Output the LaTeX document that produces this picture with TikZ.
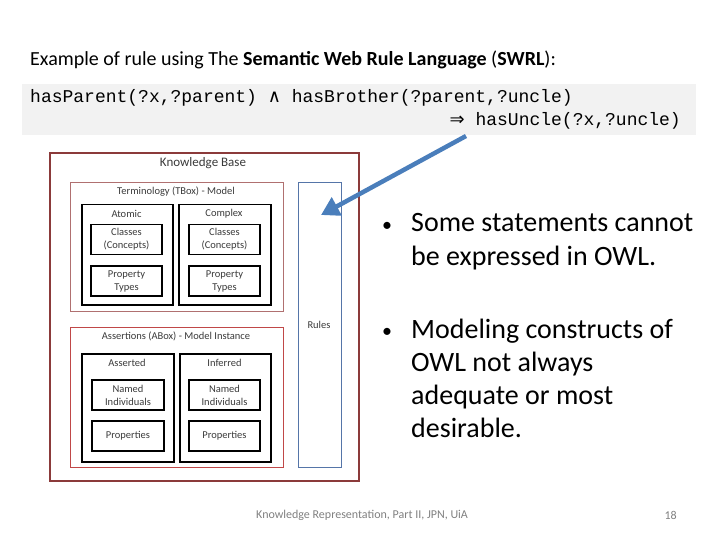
\documentclass[tikz,border=0pt]{standalone}
\usepackage{fontspec}
\setmainfont{Carlito}
\newfontfamily\codefont{Liberation Mono}
\newfontfamily\symfont{DejaVu Sans}
\usetikzlibrary{arrows.meta}
\definecolor{kbred}{HTML}{8B3A3A}
\definecolor{tboxc}{HTML}{B07070}
\definecolor{aboxc}{HTML}{C04848}
\definecolor{rulesc}{HTML}{5575A8}
\definecolor{arrowc}{HTML}{4A7EBB}
\definecolor{codebg}{HTML}{F2F2F2}
\definecolor{txtgray}{HTML}{3A3A3A}
\tikzset{
  kbbox/.style={draw=kbred, line width=2.4pt, anchor=north west, inner sep=0pt},
  tbox/.style={draw=tboxc, line width=1pt, anchor=north west, inner sep=0pt},
  abox/.style={draw=aboxc, line width=1pt, anchor=north west, inner sep=0pt},
  rbox/.style={draw=rulesc, line width=0.8pt, anchor=north west, inner sep=0pt},
  group/.style={draw=black, line width=1.5pt, anchor=north west, inner sep=0pt},
  item/.style={draw=black, line width=1.3pt, minimum width=71pt, minimum height=30pt, inner sep=0pt, align=center, font=\fontsize{10.5}{13}\selectfont, text=txtgray},
  lbl/.style={inner sep=0pt, font=\fontsize{10.5}{13}\selectfont, text=txtgray},
  bullet/.style={inner sep=0pt, anchor=base west, align=left, font=\fontsize{28}{33}\selectfont},
  foot/.style={inner sep=0pt, font=\fontsize{12}{14}\selectfont, text=gray},
  bigarrow/.style={draw=arrowc, line width=4.5pt, -{Triangle[length=18pt,width=20pt]}}
}
\newcommand{\bul}{\makebox[31pt][l]{\raisebox{0.5pt}{\fontsize{20}{20}\selectfont\hspace{2pt}•}}}
\newcommand{\ind}{\hspace*{31pt}}
\begin{document}
\begin{tikzpicture}[x=1pt,y=-1pt]
\useasboundingbox (0,0) rectangle (720,540);
% title
\node[inner sep=0pt, anchor=west, font=\fontsize{20}{24}\selectfont] (title) at (30,60)
  {Example of rule using The \textbf{Semantic Web Rule Language} (\textbf{SWRL}):};
% code block
\fill[codebg] (22,84) rectangle (696,135);
\node[inner sep=0pt, anchor=west, font=\codefont\fontsize{18}{20}\selectfont] (code1) at (30,98)
  {hasParent(?x,?parent) {\symfont ∧} hasBrother(?parent,?uncle)};
\node[inner sep=0pt, anchor=east, font=\codefont\fontsize{18}{20}\selectfont] (code2) at (681,121)
  {{\symfont ⇒} hasUncle(?x,?uncle)};
% knowledge base
\node[kbbox, minimum width=309pt, minimum height=328pt] (kb) at (49,152) {};
\node[lbl, font=\fontsize{13}{15}\selectfont] (kbt) at (203,163) {Knowledge Base};
% TBox
\node[tbox, minimum width=213pt, minimum height=129pt] (tb) at (70,182) {};
\node[lbl] (tbt) at (176,192) {Terminology (TBox) - Model};
\node[group, minimum width=91pt, minimum height=100pt] (atomic) at (81,204) {};
\node[lbl] (atomict) at (126.5,214) {Atomic};
\node[item] (ac) at (126.5,239.5) {Classes\\(Concepts)};
\node[item] (ap) at (126.5,281) {Property\\Types};
\node[group, minimum width=92pt, minimum height=100pt] (complex) at (178,204) {};
\node[lbl] (complext) at (224,214) {Complex};
\node[item] (cc) at (224.5,239.5) {Classes\\(Concepts)};
\node[item] (cp) at (224.5,281) {Property\\Types};
% Rules
\node[rbox, minimum width=43pt, minimum height=285pt] (rules) at (298,182) {};
\node[lbl] (rulest) at (319,325) {Rules};
% ABox
\node[abox, minimum width=213pt, minimum height=140pt] (ab) at (70,327) {};
\node[lbl] (abt) at (176,336) {Assertions (ABox) - Model Instance};
\node[group, minimum width=92pt, minimum height=108pt] (asserted) at (81,353) {};
\node[lbl] (assertedt) at (127,363) {Asserted};
\node[item, minimum width=72pt] (an) at (128,395) {Named\\Individuals};
\node[item, minimum width=72pt] (apr) at (128,436) {Properties};
\node[group, minimum width=91pt, minimum height=108pt] (inferred) at (179,353) {};
\node[lbl] (inferredt) at (224.5,363) {Inferred};
\node[item] (in) at (224.5,395) {Named\\Individuals};
\node[item] (ipr) at (224.5,436) {Properties};
% arrow
\coordinate (src) at (466,136);
\coordinate (tip) at (321,215);
\draw[bigarrow] (src) -- (tip);
% bullets (base anchor = last line's baseline)
\node[bullet] (b1) at (380,265) {\bul Some statements cannot\\\ind be expressed in OWL.};
\node[bullet] (b2) at (380,437) {\bul Modeling constructs of\\\ind OWL not always\\\ind adequate or most\\\ind desirable.};
% footer
\node[foot, anchor=west] (ft) at (256,515) {Knowledge Representation, Part II, JPN, UiA};
\node[foot, anchor=east] (pg) at (677,515) {18};
\end{tikzpicture}
\end{document}
